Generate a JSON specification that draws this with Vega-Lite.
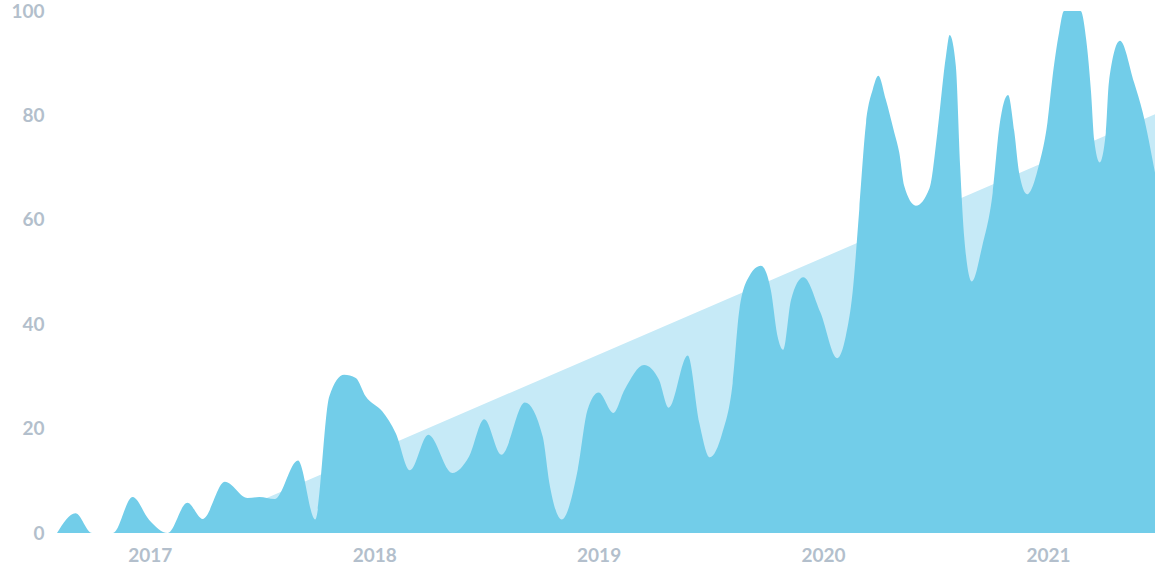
{
  "$schema": "https://vega.github.io/schema/vega-lite/v6.json",
  "autosize": {"type": "none"},
  "width": 1098,
  "height": 522,
  "padding": {"left": 57, "top": 11, "right": 5, "bottom": 47},
  "background": "#ffffff",
  "config": {
    "view": {"stroke": null},
    "axis": {
      "labelFont": "Lato",
      "labelFontWeight": "bold",
      "labelFontSize": 19,
      "labelColor": "#b3bfcc",
      "domain": false,
      "ticks": false,
      "grid": false,
      "title": null
    }
  },
  "datasets": {
    "series": [
      {"date": "2016-08-03", "value": 0},
      {"date": "2016-09-02", "value": 3.8},
      {"date": "2016-09-29", "value": 0},
      {"date": "2016-11-02", "value": 0},
      {"date": "2016-12-04", "value": 6.9},
      {"date": "2016-12-31", "value": 2.5},
      {"date": "2017-01-30", "value": 0},
      {"date": "2017-03-03", "value": 5.8},
      {"date": "2017-03-28", "value": 2.7},
      {"date": "2017-05-03", "value": 9.8},
      {"date": "2017-06-09", "value": 6.7},
      {"date": "2017-06-28", "value": 6.9},
      {"date": "2017-07-23", "value": 6.5},
      {"date": "2017-08-30", "value": 13.9},
      {"date": "2017-09-27", "value": 2.6},
      {"date": "2017-10-20", "value": 26.2},
      {"date": "2017-11-13", "value": 30.3},
      {"date": "2017-12-02", "value": 29.7},
      {"date": "2017-12-18", "value": 26.2},
      {"date": "2018-01-14", "value": 23.3},
      {"date": "2018-02-05", "value": 19.1},
      {"date": "2018-02-28", "value": 12},
      {"date": "2018-03-30", "value": 18.8},
      {"date": "2018-05-08", "value": 11.5},
      {"date": "2018-06-04", "value": 14.6},
      {"date": "2018-06-29", "value": 21.8},
      {"date": "2018-07-27", "value": 15},
      {"date": "2018-09-03", "value": 25},
      {"date": "2018-10-02", "value": 18.5},
      {"date": "2018-10-13", "value": 9.5},
      {"date": "2018-11-02", "value": 2.6},
      {"date": "2018-11-28", "value": 12.1},
      {"date": "2018-12-14", "value": 23.6},
      {"date": "2019-01-01", "value": 26.9},
      {"date": "2019-01-25", "value": 23},
      {"date": "2019-02-12", "value": 27.4},
      {"date": "2019-03-16", "value": 32.2},
      {"date": "2019-04-09", "value": 29.4},
      {"date": "2019-04-25", "value": 24},
      {"date": "2019-05-26", "value": 34},
      {"date": "2019-06-14", "value": 21},
      {"date": "2019-07-01", "value": 14.5},
      {"date": "2019-07-21", "value": 19.1},
      {"date": "2019-08-07", "value": 28.7},
      {"date": "2019-08-18", "value": 42.8},
      {"date": "2019-09-03", "value": 49.2},
      {"date": "2019-09-22", "value": 51.2},
      {"date": "2019-10-08", "value": 46.6},
      {"date": "2019-10-19", "value": 37.7},
      {"date": "2019-10-28", "value": 35.1},
      {"date": "2019-11-10", "value": 44.7},
      {"date": "2019-11-30", "value": 49},
      {"date": "2019-12-28", "value": 42.2},
      {"date": "2020-01-24", "value": 33.5},
      {"date": "2020-02-07", "value": 37.7},
      {"date": "2020-02-18", "value": 46},
      {"date": "2020-02-29", "value": 62},
      {"date": "2020-03-11", "value": 78.6},
      {"date": "2020-03-22", "value": 85},
      {"date": "2020-03-31", "value": 87.6},
      {"date": "2020-04-12", "value": 83.1},
      {"date": "2020-04-26", "value": 76.7},
      {"date": "2020-05-04", "value": 72.9},
      {"date": "2020-05-12", "value": 66.5},
      {"date": "2020-05-31", "value": 62.7},
      {"date": "2020-06-22", "value": 66},
      {"date": "2020-07-05", "value": 76.7},
      {"date": "2020-07-19", "value": 91.4},
      {"date": "2020-07-25", "value": 95.4},
      {"date": "2020-08-04", "value": 89.5},
      {"date": "2020-08-11", "value": 70.3},
      {"date": "2020-08-18", "value": 56.2},
      {"date": "2020-08-30", "value": 48.2},
      {"date": "2020-09-16", "value": 55},
      {"date": "2020-10-03", "value": 65.2},
      {"date": "2020-10-14", "value": 78},
      {"date": "2020-10-28", "value": 83.9},
      {"date": "2020-11-07", "value": 77},
      {"date": "2020-11-15", "value": 69},
      {"date": "2020-11-28", "value": 64.9},
      {"date": "2020-12-18", "value": 70.9},
      {"date": "2020-12-31", "value": 78.6},
      {"date": "2021-01-08", "value": 87},
      {"date": "2021-01-19", "value": 95.9},
      {"date": "2021-01-27", "value": 100},
      {"date": "2021-02-23", "value": 100},
      {"date": "2021-03-04", "value": 94.6},
      {"date": "2021-03-12", "value": 84.4},
      {"date": "2021-03-17", "value": 75.4},
      {"date": "2021-03-26", "value": 71},
      {"date": "2021-04-05", "value": 76.7},
      {"date": "2021-04-10", "value": 86.3},
      {"date": "2021-04-28", "value": 94.3},
      {"date": "2021-05-21", "value": 86.3},
      {"date": "2021-06-04", "value": 80.6},
      {"date": "2021-06-24", "value": 69}
    ],
    "trend": [
      {"date": "2017-02-28", "value": 0},
      {"date": "2021-06-24", "value": 80.2}
    ]
  },
  "encoding": {
    "x": {
      "field": "date",
      "type": "temporal",
      "scale": {"nice": false},
      "axis": {
        "format": "%Y",
        "tickCount": {"interval": "year", "step": 1},
        "labelPadding": 13,
        "labelFlush": false,
        "labelOverlap": false
      }
    },
    "y": {
      "field": "value",
      "type": "quantitative",
      "scale": {"domain": [0, 100], "nice": false},
      "axis": {"values": [0, 20, 40, 60, 80, 100], "labelPadding": 13}
    }
  },
  "layer": [
    {
      "data": {"name": "trend"},
      "mark": {"type": "area", "color": "#c6eaf7", "interpolate": "linear"}
    },
    {
      "data": {"name": "series"},
      "mark": {"type": "area", "color": "#72cde9", "interpolate": "monotone", "clip": true}
    }
  ]
}
